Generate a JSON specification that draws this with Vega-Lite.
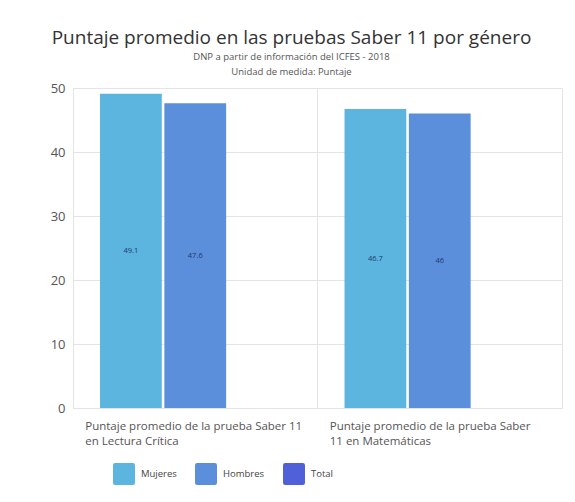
{
  "$schema": "https://vega.github.io/schema/vega-lite/v6.json",
  "width": 489,
  "height": 320,
  "padding": {"left": 50, "top": 28, "right": 10, "bottom": 10},
  "background": "white",
  "title": {
    "text": "Puntaje promedio en las pruebas Saber 11 por género",
    "subtitle": ["DNP a partir de información del ICFES - 2018", "Unidad de medida: Puntaje"],
    "anchor": "middle",
    "dx": -26,
    "font": "Open Sans",
    "fontSize": 19,
    "fontWeight": "normal",
    "color": "#333333",
    "subtitleFont": "Open Sans",
    "subtitleFontSize": 9.5,
    "subtitleColor": "#555555",
    "subtitlePadding": 4,
    "subtitleLineHeight": 15,
    "offset": 6
  },
  "data": {
    "values": [
      {"prueba": "Lectura", "serie": "Mujeres", "puntaje": 49.1},
      {"prueba": "Lectura", "serie": "Hombres", "puntaje": 47.6},
      {"prueba": "Matematicas", "serie": "Mujeres", "puntaje": 46.7},
      {"prueba": "Matematicas", "serie": "Hombres", "puntaje": 46}
    ]
  },
  "encoding": {
    "x": {
      "field": "prueba",
      "type": "nominal",
      "scale": {"domain": ["Lectura", "Matematicas"], "paddingInner": 0, "paddingOuter": 0},
      "axis": {
        "title": null,
        "bandPosition": 0,
        "labelAngle": 0,
        "labelAlign": "left",
        "labelOffset": -110,
        "labelBaseline": "top",
        "labelPadding": 12,
        "labelLimit": 400,
        "labelFont": "Open Sans",
        "labelFontSize": 11.5,
        "labelColor": "#555555",
        "labelLineHeight": 15,
        "labelExpr": "datum.value == 'Lectura' ? ['Puntaje promedio de la prueba Saber 11', 'en Lectura Crítica'] : ['Puntaje promedio de la prueba Saber', '11 en Matemáticas']",
        "ticks": false,
        "domain": false,
        "grid": true,
        "gridColor": "#e4e4e4"
      }
    },
    "xOffset": {
      "field": "serie",
      "type": "nominal",
      "scale": {"domain": ["Mujeres", "Hombres", "Total"], "paddingInner": 0.04, "paddingOuter": 0.42}
    }
  },
  "layer": [
    {
      "mark": {"type": "bar"},
      "encoding": {
        "y": {
          "field": "puntaje",
          "type": "quantitative",
          "scale": {"domain": [0, 50]},
          "axis": {
            "title": null,
            "values": [0, 10, 20, 30, 40, 50],
            "labelFont": "Open Sans",
            "labelFontSize": 13,
            "labelColor": "#555555",
            "labelPadding": 8,
            "ticks": false,
            "domain": false,
            "gridColor": "#e4e4e4"
          }
        },
        "color": {
          "field": "serie",
          "type": "nominal",
          "scale": {"domain": ["Mujeres", "Hombres", "Total"], "range": ["#5bb5df", "#5b8fdc", "#5060d8"]},
          "legend": {
            "title": null,
            "orient": "none",
            "legendX": 40,
            "legendY": 375,
            "direction": "horizontal",
            "symbolType": "M -0.8,-1 H 0.8 Q 1,-1 1,-0.8 V 0.8 Q 1,1 0.8,1 H -0.8 Q -1,1 -1,0.8 V -0.8 Q -1,-1 -0.8,-1 Z",
            "symbolSize": 484,
            "symbolStrokeWidth": 0,
            "labelFont": "Open Sans",
            "labelFontSize": 9.5,
            "labelColor": "#444444",
            "labelOffset": 6,
            "columnPadding": 18
          }
        }
      }
    },
    {
      "mark": {"type": "text", "font": "Open Sans", "fontSize": 7.5, "color": "#1f3a6e"},
      "encoding": {
        "y": {"field": "puntaje", "type": "quantitative", "scale": {"domain": [0, 100]}, "axis": null},
        "text": {"field": "puntaje", "type": "quantitative"}
      }
    }
  ],
  "resolve": {"scale": {"y": "independent"}},
  "config": {
    "view": {"stroke": "#e4e4e4"},
    "font": "Open Sans"
  }
}
